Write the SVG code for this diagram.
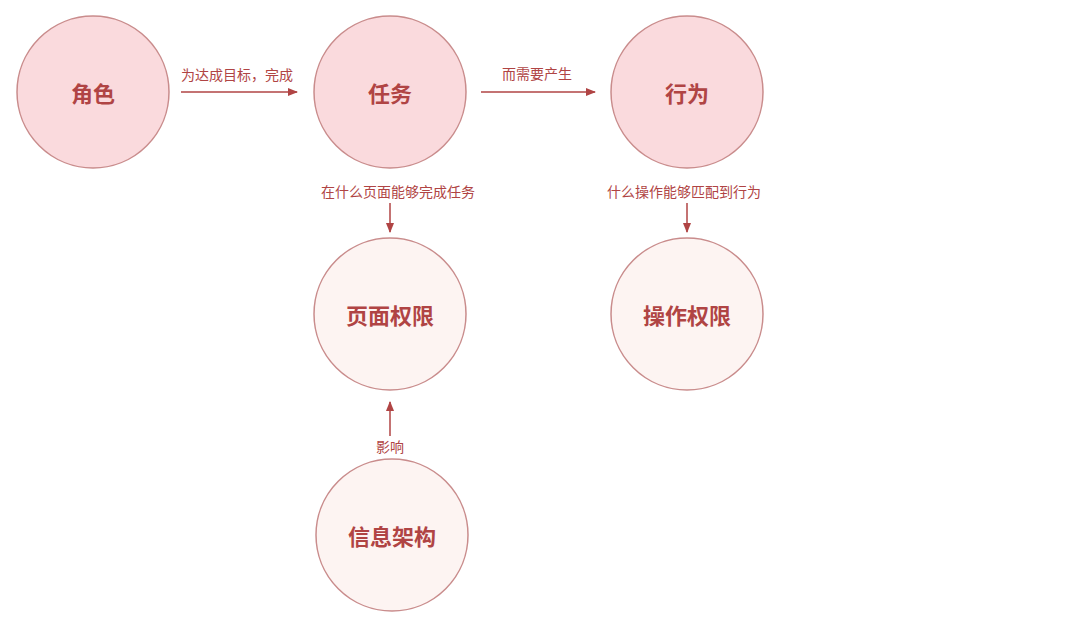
<svg xmlns="http://www.w3.org/2000/svg" width="1080" height="639" viewBox="0 0 1080 639">
<style>
.top{fill:#fadadd;stroke:#c98c8c;stroke-width:1.5}
.bot{fill:#fdf4f2;stroke:#c98c8c;stroke-width:1.5}
.t{font-family:"Noto Sans CJK SC",sans-serif;font-weight:bold;font-size:22px;fill:#b04444;text-anchor:middle;dominant-baseline:central}
.l{font-family:"Noto Sans CJK SC",sans-serif;font-size:14px;fill:#b04444;text-anchor:middle;dominant-baseline:central}
.c{stroke:#b04444;stroke-width:1.5;fill:none;marker-end:url(#a)}
</style>
<defs><marker id="a" viewBox="0 0 10 10" refX="9" refY="5" markerWidth="7" markerHeight="7" orient="auto"><path d="M0,1L10,5L0,9z" fill="#b04444"/></marker></defs>
<rect width="1080" height="639" fill="#fff"/>
<g id="n1"><circle class="top" cx="93" cy="92" r="76"/><text class="t" x="93" y="92">角色</text></g>
<g id="n2"><circle class="top" cx="390" cy="92" r="76"/><text class="t" x="390" y="92">任务</text></g>
<g id="n3"><circle class="top" cx="687" cy="92" r="76"/><text class="t" x="687" y="92">行为</text></g>
<g id="n4"><circle class="bot" cx="390" cy="314" r="76"/><text class="t" x="390" y="314">页面权限</text></g>
<g id="n5"><circle class="bot" cx="687" cy="314" r="76"/><text class="t" x="687" y="314">操作权限</text></g>
<g id="n6"><circle class="bot" cx="392" cy="535" r="76"/><text class="t" x="392" y="535">信息架构</text></g>
<g id="connectors">
<line class="c" x1="181" y1="92" x2="297" y2="92"/>
<line class="c" x1="481" y1="92" x2="595" y2="92"/>
<line class="c" x1="390" y1="203" x2="390" y2="232"/>
<line class="c" x1="687" y1="203" x2="687" y2="232"/>
<line class="c" x1="390" y1="436" x2="390" y2="402"/>
<text class="l" x="237" y="74">为达成目标，完成</text>
<text class="l" x="537" y="73">而需要产生</text>
<text class="l" x="398" y="191">在什么页面能够完成任务</text>
<text class="l" x="684" y="191">什么操作能够匹配到行为</text>
<text class="l" x="390" y="446">影响</text>
</g>
</svg>
